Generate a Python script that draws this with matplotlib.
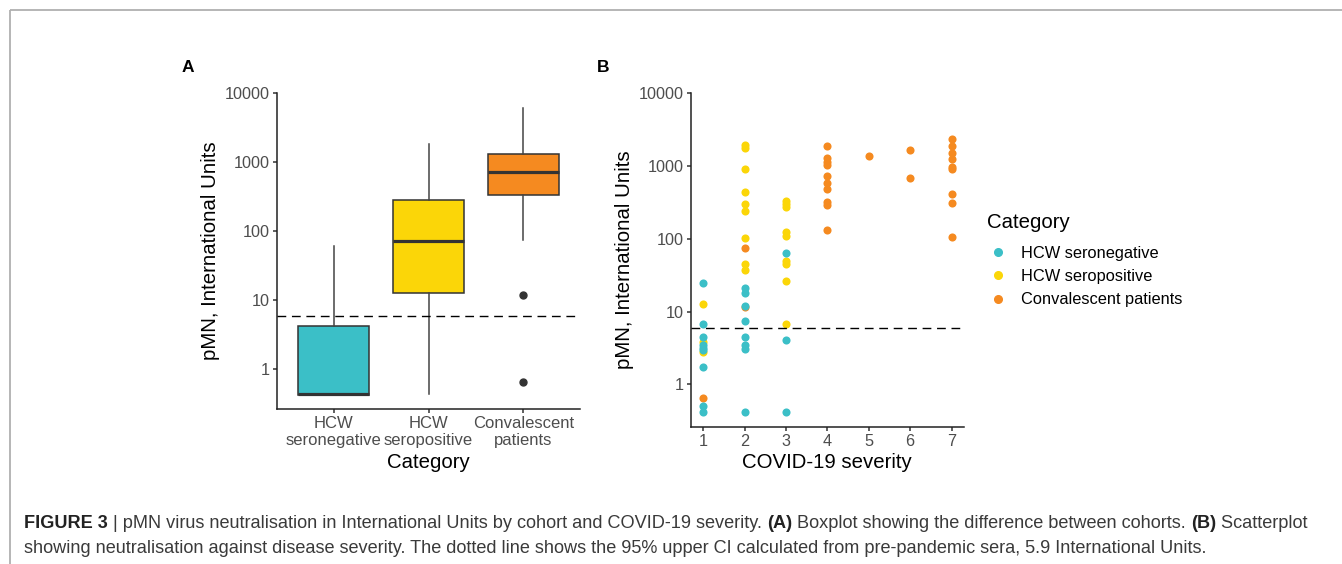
import matplotlib
matplotlib.use("Agg")
import matplotlib.pyplot as plt
from matplotlib.lines import Line2D
from matplotlib.ticker import FixedLocator, NullLocator

plt.rcParams['font.family'] = ['Liberation Sans', 'DejaVu Sans']

# categories / colours
categories = ['HCW\nseronegative', 'HCW\nseropositive', 'Convalescent\npatients']
legend_labels = ['HCW seronegative', 'HCW seropositive', 'Convalescent patients']
colors = ['#3BBFC7', '#FBD608', '#F58A20']

# panel A: box summaries (International Units)
box_low = [0.42, 0.43, 75]
box_q1 = [0.42, 12.5, 339]
box_med = [0.43, 72, 716]
box_q3 = [4.24, 287, 1333]
box_high = [62, 1820, 6120]
box_outliers = [[], [], [11.7, 0.64]]

threshold = 5.9

# panel B: severity vs pMN
neg_sev = [1, 1, 1, 1, 1, 1, 1, 1, 1, 2, 2, 2, 2, 2, 2, 2, 2, 3, 3, 3]
neg_val = [24.5, 6.8, 4.4, 3.5, 3.2, 2.95, 1.72, 0.50, 0.42,
           21, 17.8, 11.9, 7.3, 4.5, 3.5, 3.1, 0.42,
           63, 4.1, 0.42]

pos_sev = [1, 1, 1, 2, 2, 2, 2, 2, 2, 2, 2, 2, 3, 3, 3, 3, 3, 3, 3, 3, 3]
pos_val = [12.7, 3.8, 2.75,
           1950, 1750, 900, 436, 300, 245, 102, 45, 37,
           330, 300, 270, 125, 110, 50, 45, 26.3, 6.75]

conv_sev = [1, 2, 2, 4, 4, 4, 4, 4, 4, 4, 4, 4, 4, 5, 6, 6,
            7, 7, 7, 7, 7, 7, 7, 7, 7]
conv_val = [0.64, 74, 11.5,
            1860, 1280, 1150, 1030, 730, 580, 480, 325, 295, 133,
            1380, 1660, 680,
            2330, 1890, 1500, 1250, 960, 910, 409, 308, 105]

yticks = [1, 10, 100, 1000, 10000]
ylims = (10 ** -0.583, 10 ** 4.01)

fig = plt.figure(figsize=(13.42, 5.64), dpi=100)

# background layer: frame + caption (pixel coordinates)
bg = fig.add_axes([0, 0, 1, 1], zorder=-1)
bg.set_xlim(0, 1342)
bg.set_ylim(564, 0)
bg.axis('off')
bg.plot([9.5, 1342], [10, 10], color='#b0b0b0', lw=1.3, solid_capstyle='butt')
bg.plot([9.5, 9.5], [10, 564], color='#b0b0b0', lw=1.3, solid_capstyle='butt')


def style_axis(ax):
    for s in ['top', 'right']:
        ax.spines[s].set_visible(False)
    for s in ['left', 'bottom']:
        ax.spines[s].set_color('#222222')
        ax.spines[s].set_linewidth(1.1)
    ax.set_yscale('log')
    ax.set_ylim(*ylims)
    ax.yaxis.set_major_locator(FixedLocator(yticks))
    ax.yaxis.set_minor_locator(NullLocator())
    ax.set_yticklabels([str(t) for t in yticks])
    ax.tick_params(length=3, width=1.1, color='#333333', labelcolor='#4d4d4d',
                   labelsize=11.7, pad=2)
    ax.axhline(threshold, color='black', lw=1.0, dashes=(6.3, 4.1), zorder=3)


# Panel A
axA = fig.add_axes([277 / 1342, 1 - 409.3 / 564, 303 / 1342, 316.7 / 564])
stats = []
for i in range(3):
    stats.append(dict(whislo=box_low[i], q1=box_q1[i], med=box_med[i],
                      q3=box_q3[i], whishi=box_high[i], fliers=box_outliers[i]))
bp = axA.bxp(stats, positions=[1, 2, 3], widths=0.75, patch_artist=True,
             showcaps=False,
             boxprops=dict(edgecolor='#333333', linewidth=1.1),
             medianprops=dict(color='#333333', linewidth=2.3),
             whiskerprops=dict(color='#444444', linewidth=1.1),
             flierprops=dict(marker='o', markerfacecolor='#333333',
                             markeredgecolor='#333333', markersize=5))
for patch, c in zip(bp['boxes'], colors):
    patch.set_facecolor(c)
style_axis(axA)
axA.set_xlim(0.4, 3.6)
axA.set_xticks([1, 2, 3])
axA.set_xticklabels(categories, linespacing=1.12, fontsize=12)
axA.set_ylabel('pMN, International Units', fontsize=14.7, va='center')
axA.yaxis.set_label_coords(-0.221, 0.5)
axA.set_xlabel('Category', fontsize=14.7, va='baseline')
axA.xaxis.set_label_coords(0.5, -0.1863)

# Panel B
axB = fig.add_axes([690.7 / 1342, 1 - 426.7 / 564, 273.3 / 1342, 334.1 / 564])
axB.scatter(conv_sev, conv_val, s=34, color=colors[2], linewidths=0, zorder=2)
axB.scatter(pos_sev, pos_val, s=34, color=colors[1], linewidths=0, zorder=2)
axB.scatter(neg_sev, neg_val, s=34, color=colors[0], linewidths=0, zorder=2)
style_axis(axB)
axB.set_xlim(0.7, 7.3)
axB.set_xticks([1, 2, 3, 4, 5, 6, 7])
axB.set_ylabel('pMN, International Units', fontsize=14.7, va='center')
axB.yaxis.set_label_coords(-0.244, 0.5)
axB.set_xlabel('COVID-19 severity', fontsize=14.7, va='baseline')
axB.xaxis.set_label_coords(0.5, -0.1245)

# legend (title set as its own text to match the spacing)
fig.text(987 / 1342, 1 - 222 / 564, 'Category', fontsize=14.7, va='center', ha='left')
handles = [Line2D([], [], marker='o', ls='', color=c, markersize=5.5) for c in colors]
fig.legend(handles, legend_labels, loc='upper left',
           bbox_to_anchor=(987 / 1342, 1 - 246 / 564), frameon=False,
           fontsize=11.8, handlelength=1.34,
           handletextpad=0.73, labelspacing=0.5, borderpad=0,
           borderaxespad=0)

# panel letters
fig.text(182 / 1342, 1 - 67 / 564, 'A', fontsize=12.5, fontweight='bold', va='center')
fig.text(597 / 1342, 1 - 67 / 564, 'B', fontsize=12.5, fontweight='bold', va='center')

# caption
cap_size = 13.1
line1 = [('FIGURE 3', 'bold'),
         (' | pMN virus neutralisation in International Units by cohort and COVID-19 severity. ', 'normal'),
         ('(A)', 'bold'),
         (' Boxplot showing the difference between cohorts. ', 'normal'),
         ('(B)', 'bold'),
         (' Scatterplot', 'normal')]
line2 = 'showing neutralisation against disease severity. The dotted line shows the 95% upper CI calculated from pre-pandemic sera, 5.9 International Units.'

prev = bg.text(24, 528, line1[0][0], fontsize=cap_size, fontweight=line1[0][1],
               color='#222222', ha='left', va='baseline')
for txt, w in line1[1:]:
    prev = bg.annotate(txt, xy=(1, 0), xycoords=prev, fontsize=cap_size,
                       fontweight=w, color='#222222' if w == 'bold' else '#3a3a3a',
                       ha='left', va='bottom')
bg.text(24, 553, line2, fontsize=cap_size, color='#3a3a3a', ha='left', va='baseline')

fig.savefig('out.png', dpi=100)
